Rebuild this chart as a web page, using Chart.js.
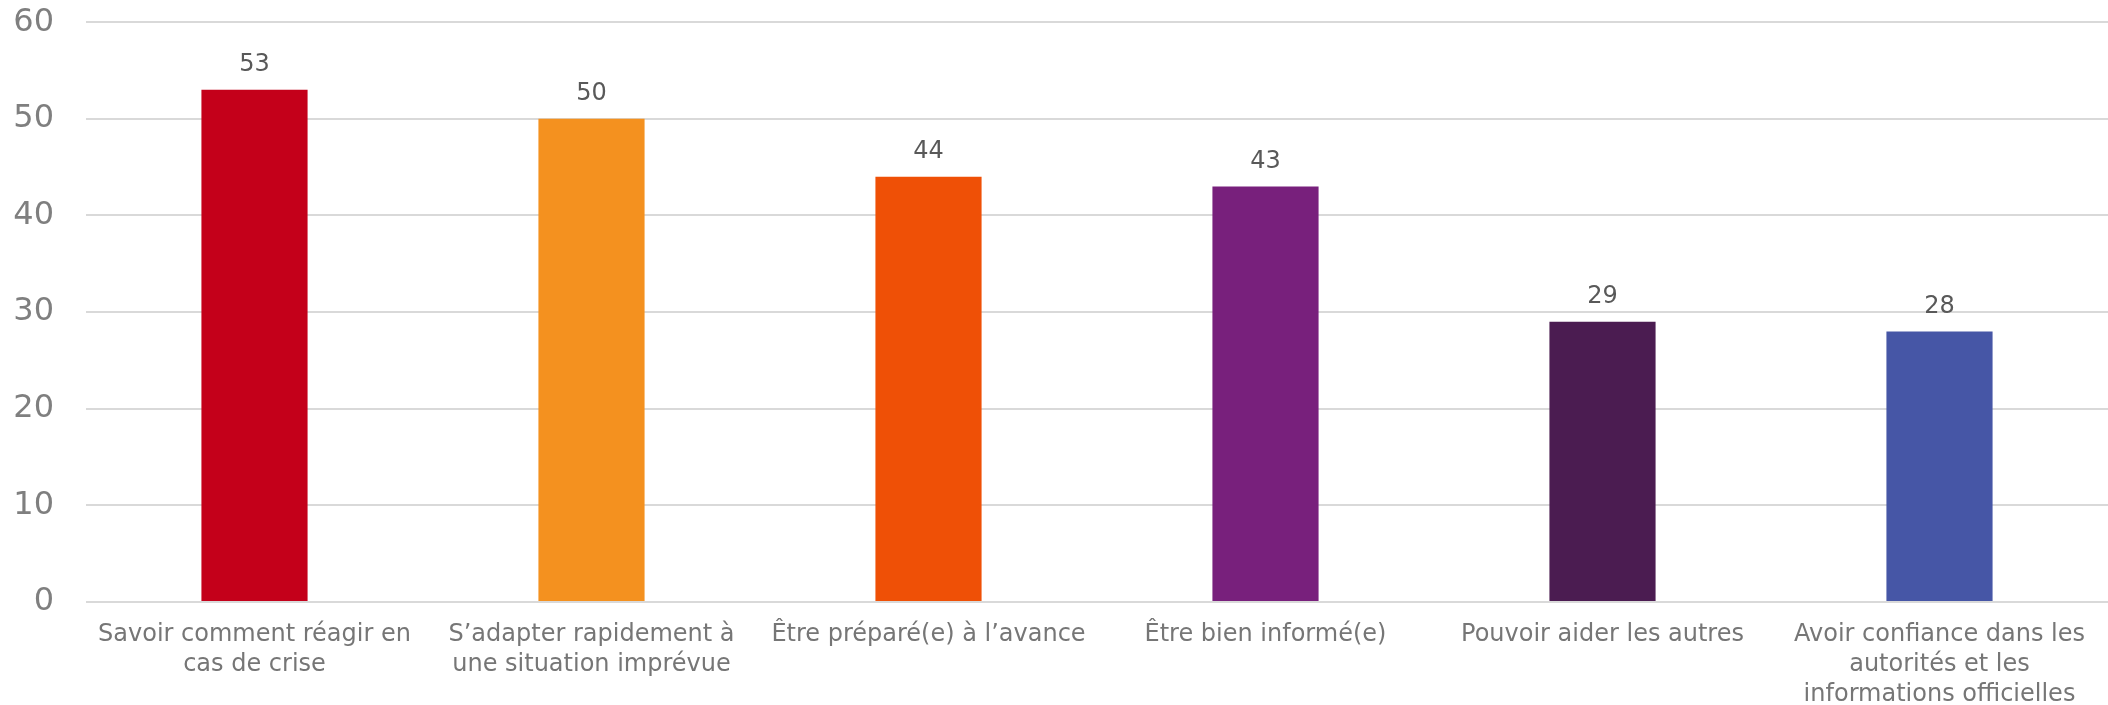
<!DOCTYPE html>
<html>
<head>
<meta charset="utf-8">
<script src="https://cdn.jsdelivr.net/npm/chart.js@4/dist/chart.umd.min.js"></script>
<style>
  html, body { margin: 0; padding: 0; background: #fff; }
  #wrap { width: 2108px; height: 705px; position: relative; }
</style>
</head>
<body>
<div id="wrap"><canvas id="chart"></canvas></div>
<script>
// Chart data
const categories = [
    ['Savoir comment réagir en', 'cas de crise'],
    ['S’adapter rapidement à', 'une situation imprévue'],
    ['Être préparé(e) à l’avance'],
    ['Être bien informé(e)'],
    ['Pouvoir aider les autres'],
    ['Avoir confiance dans les', 'autorités et les', 'informations officielles']
];
const values = [53, 50, 44, 43, 29, 28];
const barColors = ['#C4001A', '#F4911F', '#EF5006', '#78207C', '#4B1C51', '#4656A6'];
const yTicks = [0, 10, 20, 30, 40, 50, 60];

const FONT = '"DejaVu Sans", Verdana, sans-serif';

// Draws the value above each bar
const valueLabels = {
    id: 'valueLabels',
    afterDatasetsDraw(chart) {
        const ctx = chart.ctx;
        const meta = chart.getDatasetMeta(0);
        ctx.save();
        ctx.font = '24px ' + FONT;
        ctx.fillStyle = '#595959';
        ctx.textAlign = 'center';
        ctx.textBaseline = 'middle';
        meta.data.forEach((bar, i) => {
            ctx.fillText(values[i], bar.x, bar.y - 25);
        });
        ctx.restore();
    }
};

new Chart(document.getElementById('chart'), {
    type: 'bar',
    data: {
        labels: categories,
        datasets: [{
            data: values,
            backgroundColor: barColors,
            barPercentage: 0.315,
            categoryPercentage: 1
        }]
    },
    options: {
        responsive: true,
        maintainAspectRatio: false,
        animation: false,
        layout: { padding: 0 },
        plugins: {
            legend: { display: false },
            tooltip: { enabled: false }
        },
        scales: {
            x: {
                grid: { display: false },
                border: { display: false },
                ticks: {
                    color: '#767676',
                    font: { family: FONT, size: 24, lineHeight: 1.25 },
                    maxRotation: 0,
                    autoSkip: false,
                    padding: 10
                },
                afterFit(scale) { scale.height = 103; }
            },
            y: {
                min: 0,
                max: 60,
                afterBuildTicks(scale) { scale.ticks = yTicks.map(v => ({ value: v })); },
                // invisible tick marks push the labels away from the plot
                grid: { color: '#d9d9d9', lineWidth: 2, drawTicks: true, tickLength: 29, tickColor: 'rgba(0,0,0,0)' },
                border: { display: false },
                ticks: {
                    color: '#7f7f7f',
                    font: { family: FONT, size: 32 },
                    padding: 3
                },
                afterFit(scale) { scale.width = 86; }
            }
        }
    },
    plugins: [valueLabels]
});
</script>
</body>
</html>
